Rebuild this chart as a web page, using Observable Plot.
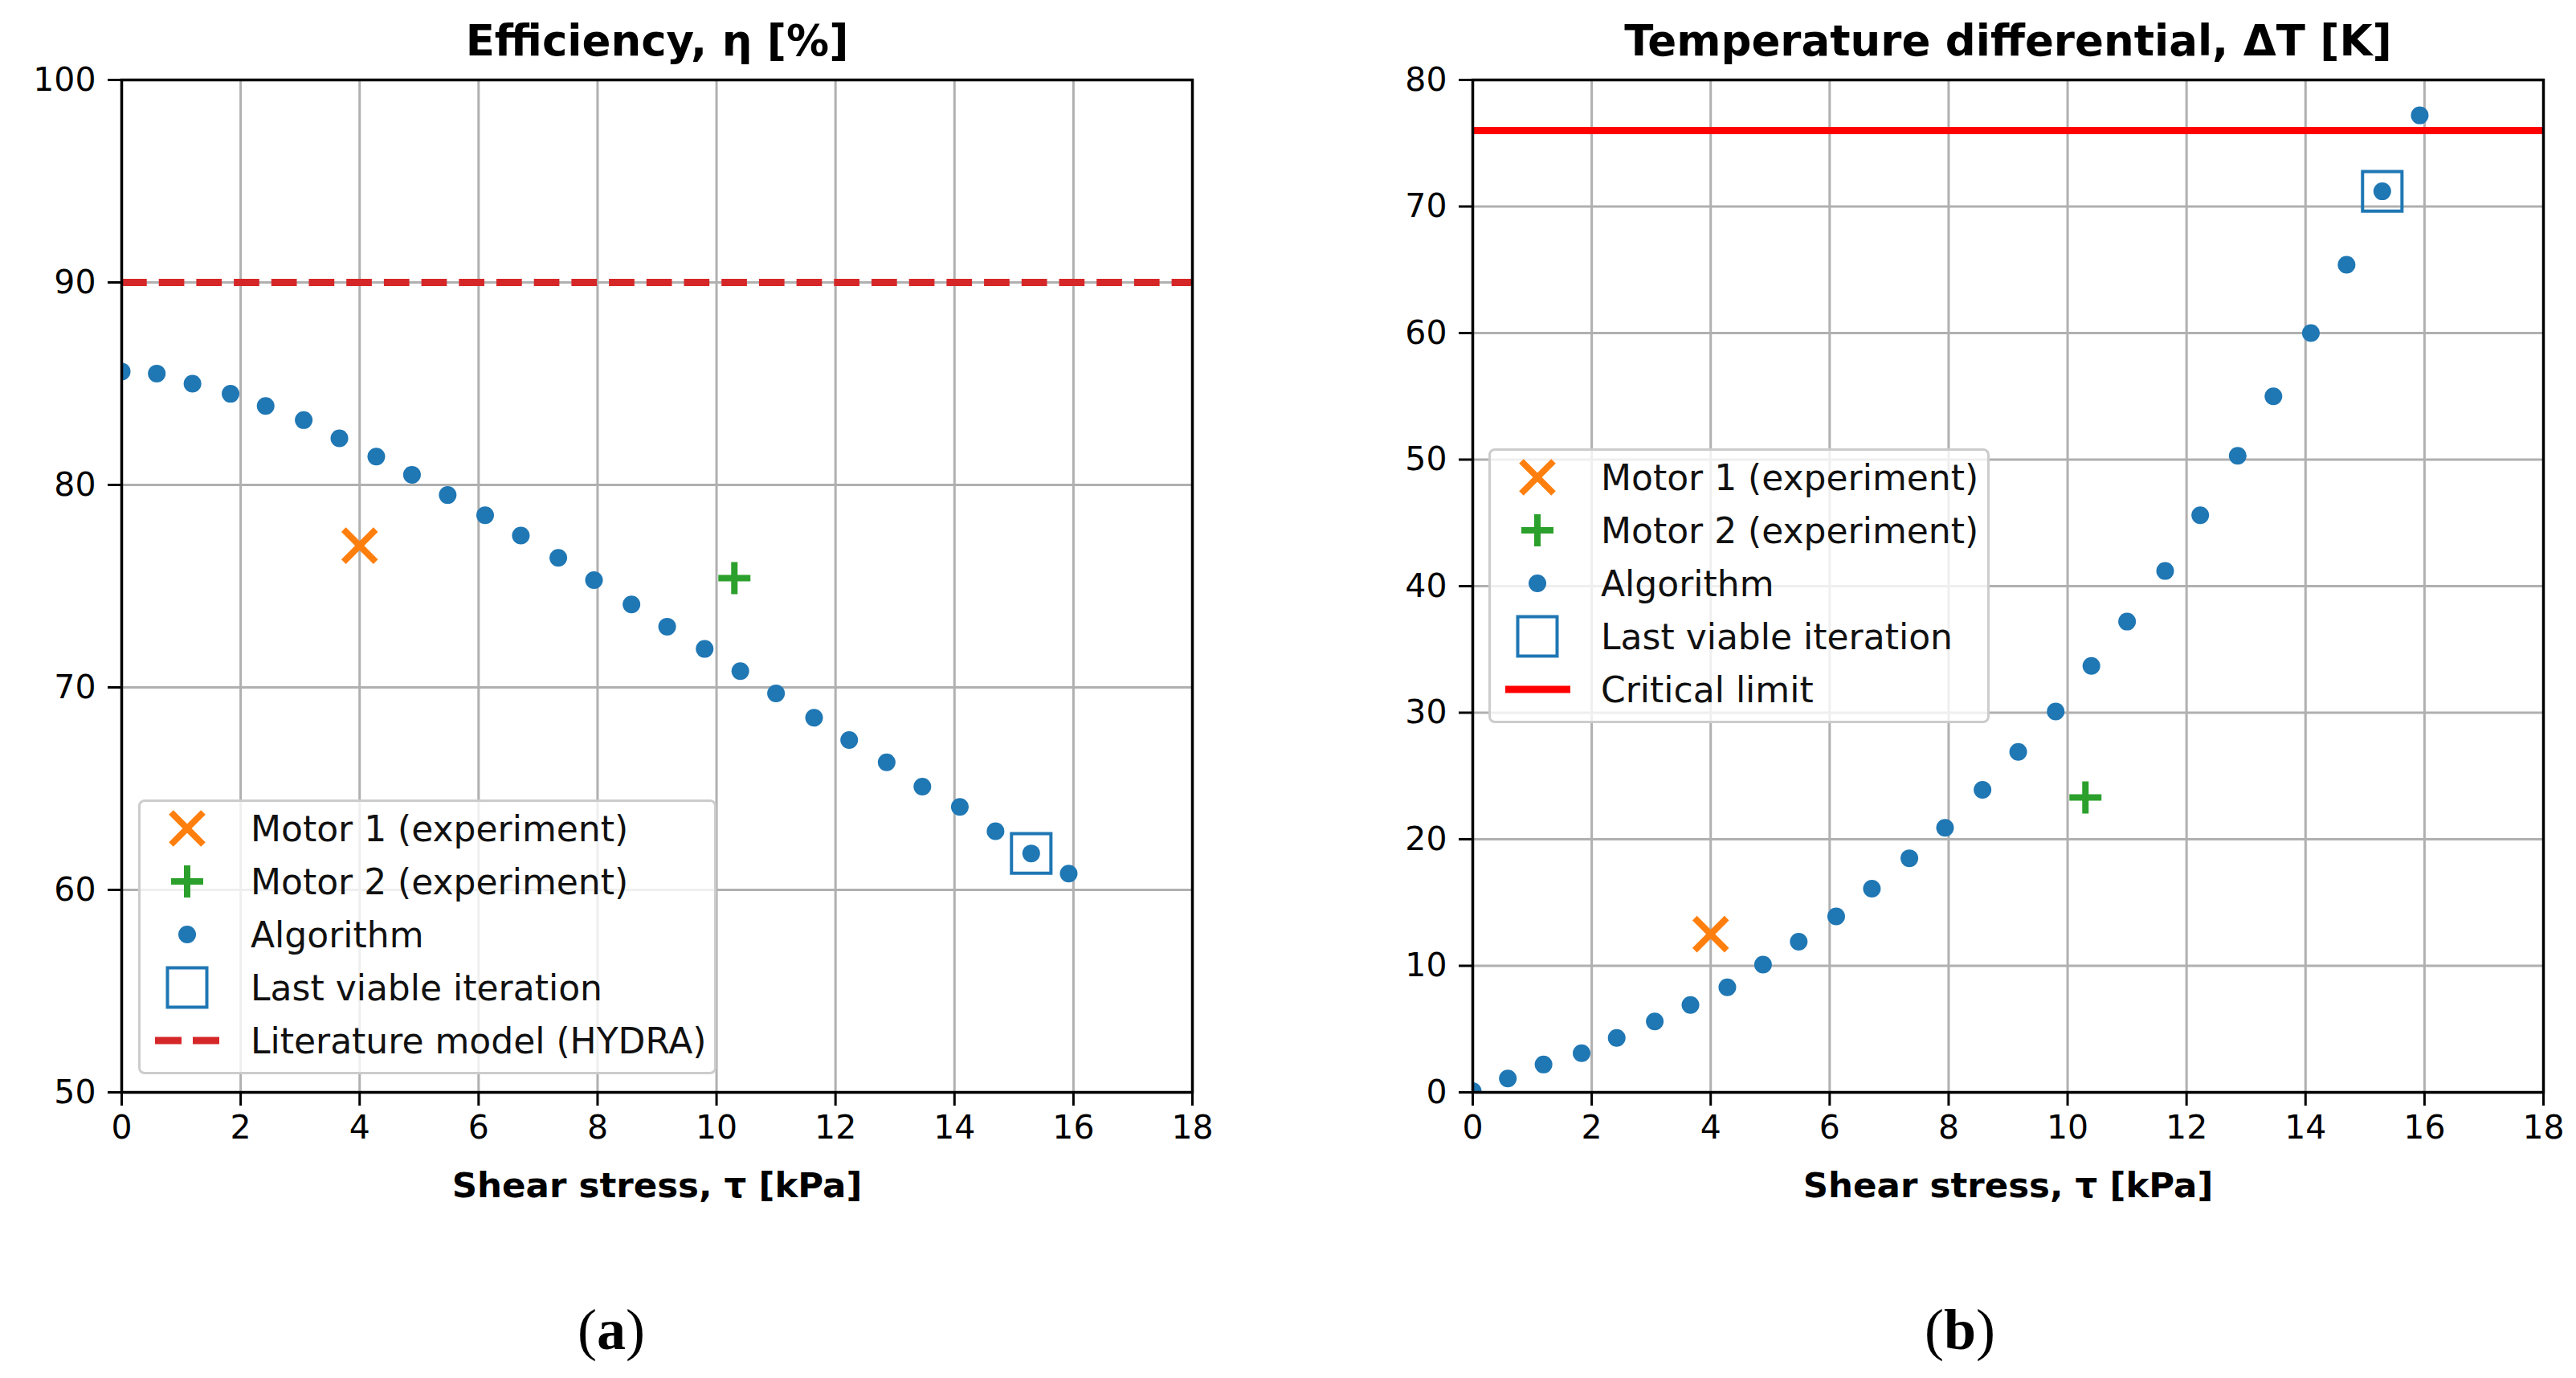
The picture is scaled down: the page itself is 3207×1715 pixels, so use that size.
<!DOCTYPE html>
<html lang="en">
<head>
<meta charset="UTF-8">
<script src="https://cdn.jsdelivr.net/npm/d3@7"></script>
<script src="https://cdn.jsdelivr.net/npm/@observablehq/plot@0.6"></script>
<title>Efficiency and temperature differential</title>
<style>
    body { margin: 0; background: white; }
    #page { position: relative; width: 3207px; height: 1715px; background: white; font-family: "DejaVu Sans", sans-serif; }
    .panel { position: absolute; top: 0; }
    .legend {
        position: absolute; box-sizing: border-box; height: 342px;
        border: 3px solid #cccccc; border-radius: 8px;
        background: rgba(255, 255, 255, 0.8);
        padding: 0 0 6px 0;
        font-size: 44px; color: #111;
    }
    .legend .row { display: flex; align-items: center; height: 66px; }
    .legend .row span { margin-left: 21px; white-space: nowrap; }
    .caption {
        position: absolute; transform: translate(-50%, -50%);
        font-family: "Liberation Serif", serif; font-size: 72px; line-height: 1; color: black;
    }
</style>
</head>
<body>
<div id="page">
    <div id="plotA" class="panel" style="left:0"></div>
    <div id="plotB" class="panel" style="left:1604px"></div>
    <div id="legendA" class="legend" style="left:172px;top:995px;width:720px"></div>
    <div id="legendB" class="legend" style="left:1853px;top:558px;width:624px"></div>
    <div class="caption" style="left:761px;top:1655px">(<b>a</b>)</div>
    <div class="caption" style="left:2440px;top:1655px">(<b>b</b>)</div>
</div>
<script>
    // algorithm iterations (shear stress, kPa)
    const tau = [0, 0.59, 1.19, 1.83, 2.42, 3.06, 3.66, 4.28, 4.88, 5.48, 6.11, 6.71, 7.34, 7.94, 8.57,
        9.17, 9.8, 10.4, 11.0, 11.64, 12.23, 12.86, 13.46, 14.09, 14.69, 15.29, 15.92];
    const efficiency = [85.6, 85.5, 85.0, 84.5, 83.9, 83.2, 82.3, 81.4, 80.5, 79.5, 78.5, 77.5, 76.4, 75.3, 74.1,
        73.0, 71.9, 70.8, 69.7, 68.5, 67.4, 66.3, 65.1, 64.1, 62.9, 61.8, 60.8];
    const deltaT = [0.1, 1.1, 2.2, 3.1, 4.3, 5.6, 6.9, 8.3, 10.1, 11.9, 13.9, 16.1, 18.5, 20.9, 23.9,
        26.9, 30.1, 33.7, 37.2, 41.2, 45.6, 50.3, 55.0, 60.0, 65.4, 71.2, 77.2];
    const lastViable = 25; // index of last viable iteration

    // experiments
    const motor1 = {tau: 4.0, efficiency: 77.0, deltaT: 12.5};
    const motor2 = {tau: 10.3, efficiency: 75.4, deltaT: 23.3};

    const hydraEfficiency = 90;
    const criticalDeltaT = 76;

    const xTicks = [0, 2, 4, 6, 8, 10, 12, 14, 16, 18];
    const yTicksA = [50, 60, 70, 80, 90, 100];
    const yTicksB = [0, 10, 20, 30, 40, 50, 60, 70, 80];

    const blue = "#1f77b4", orange = "#ff7f0e", green = "#2ca02c";

    const algo = tau.map((t, i) => ({tau: t, efficiency: efficiency[i], deltaT: deltaT[i]}));

    function panel(key, yDomain, yTicks, title, opts, extra) {
        return Plot.plot({
            width: opts.width,
            height: 1715,
            marginLeft: opts.marginLeft,
            marginRight: opts.marginRight,
            marginTop: 99,
            marginBottom: 356,
            style: {fontFamily: "DejaVu Sans", fontSize: "41px", color: "black", background: "white", overflow: "visible"},
            x: {domain: [0, 18]},
            y: {domain: yDomain},
            marks: [
                Plot.gridX(xTicks, {stroke: "#b0b0b0", strokeOpacity: 1, strokeWidth: 3}),
                Plot.gridY(yTicks, {stroke: "#b0b0b0", strokeOpacity: 1, strokeWidth: 3}),
                Plot.axisX(xTicks, {tickSize: 17, tickPadding: 11, strokeWidth: 3, fontSize: 41, label: null}),
                Plot.axisY(yTicks, {tickSize: 17, tickPadding: 15, strokeWidth: 3, fontSize: 41, label: null}),
                Plot.dot([motor1], {x: "tau", y: key, symbol: "times", r: 18.2, stroke: orange, fill: "none", strokeWidth: 8}),
                Plot.dot([motor2], {x: "tau", y: key, symbol: "plus", r: 12.9, stroke: green, fill: "none", strokeWidth: 8}),
                Plot.dot(algo, {x: "tau", y: key, r: 11, fill: blue, clip: "frame"}),
                Plot.dot([algo[lastViable]], {x: "tau", y: key, symbol: "square", r: 27.7, stroke: blue, fill: "none", strokeWidth: 4}),
                extra,
                Plot.frame({stroke: "black", strokeWidth: 3.5}),
                Plot.text([title], {frameAnchor: "top", dy: -47, lineAnchor: "middle", fontSize: 53, fontWeight: "bold"}),
                Plot.text(["Shear stress, τ [kPa]"], {frameAnchor: "bottom", dy: 117, lineAnchor: "middle", fontSize: 43.5, fontWeight: "bold"})
            ]
        });
    }

    const plotA = panel("efficiency", [50, 100], yTicksA, "Efficiency, η [%]",
        {width: 1604, marginLeft: 151, marginRight: 120},
        Plot.ruleY([hydraEfficiency], {stroke: "#d62728", strokeWidth: 9, strokeDasharray: "31.7 15"}));
    document.getElementById("plotA").append(plotA);

    const plotB = panel("deltaT", [0, 80], yTicksB, "Temperature differential, ΔT [K]",
        {width: 1603, marginLeft: 229, marginRight: 41},
        Plot.ruleY([criticalDeltaT], {stroke: "#ff0000", strokeWidth: 9}));
    document.getElementById("plotB").append(plotB);

    // legend swatches
    const sw = {
        times: `<line x1="38" y1="13" x2="78" y2="53" stroke="${orange}" stroke-width="8"/><line x1="78" y1="13" x2="38" y2="53" stroke="${orange}" stroke-width="8"/>`,
        plus: `<line x1="38" y1="33" x2="78" y2="33" stroke="${green}" stroke-width="8"/><line x1="58" y1="13" x2="58" y2="53" stroke="${green}" stroke-width="8"/>`,
        dot: `<circle cx="58" cy="33" r="11" fill="${blue}"/>`,
        square: `<rect x="33.5" y="8.5" width="49" height="49" fill="none" stroke="${blue}" stroke-width="4"/>`,
        dashed: `<line x1="18" y1="33" x2="99" y2="33" stroke="#d62728" stroke-width="9" stroke-dasharray="33 14"/>`,
        solid: `<line x1="18" y1="33" x2="99" y2="33" stroke="#ff0000" stroke-width="9"/>`
    };
    function legend(id, items) {
        document.getElementById(id).innerHTML = items.map(([k, label]) =>
            `<div class="row"><svg width="116" height="66">${sw[k]}</svg><span>${label}</span></div>`).join("");
    }
    const common = [["times", "Motor 1 (experiment)"], ["plus", "Motor 2 (experiment)"],
        ["dot", "Algorithm"], ["square", "Last viable iteration"]];
    legend("legendA", [...common, ["dashed", "Literature model (HYDRA)"]]);
    legend("legendB", [...common, ["solid", "Critical limit"]]);
</script>
</body>
</html>
